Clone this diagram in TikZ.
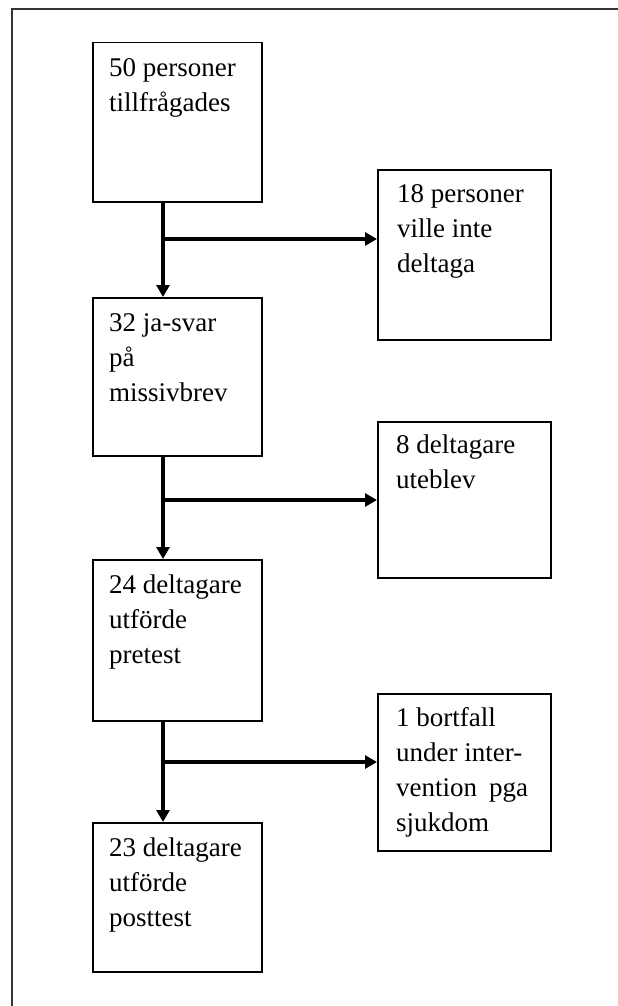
\documentclass[tikz,border=0pt]{standalone}
\usepackage{fontspec}
\setmainfont{Liberation Serif}
\usetikzlibrary{arrows.meta}
\newcommand{\tl}[1]{\hbox{\strut #1}}
\begin{document}
\begin{tikzpicture}[x=1pt,y=-1pt,
  box/.style={draw=black,line width=1.5pt,rectangle,inner sep=0pt,anchor=north west},
  txt/.style={anchor=base west,inner sep=0pt,font=\fontsize{27}{35}\selectfont},
  arr/.style={line width=4pt,-{Triangle[length=12pt,width=13pt]}},
  frame/.style={draw=black!80,line width=2pt}]
\useasboundingbox (0,0) rectangle (618,1006);
\draw[frame] (12,1010) -- (12,9) -- (622,9);
% left column
\node[box,minimum width=169pt,minimum height=159pt] (b1) at (92,42) {};
\node[box,minimum width=169pt,minimum height=158pt] (b2) at (92,297) {};
\node[box,minimum width=169pt,minimum height=161pt] (b3) at (92,559) {};
\node[box,minimum width=169pt,minimum height=149pt] (b4) at (92,822) {};
% right column
\node[box,minimum width=173pt,minimum height=170pt] (r1) at (377,169) {};
\node[box,minimum width=173pt,minimum height=156pt] (r2) at (377,421) {};
\node[box,minimum width=173pt,minimum height=157pt] (r3) at (377,693) {};
% texts
\node[txt] (t1) at (109,77) {\vtop{\tl{50 personer}\tl{tillfrågades}}};
\node[txt] (t2) at (109,331) {\vtop{\tl{32 ja-svar}\tl{på}\tl{missivbrev}}};
\node[txt] (t3) at (109,593) {\vtop{\tl{24 deltagare}\tl{utförde}\tl{pretest}}};
\node[txt] (t4) at (109,856) {\vtop{\tl{23 deltagare}\tl{utförde}\tl{posttest}}};
\node[txt] (s1) at (397,202) {\vtop{\tl{18 personer}\tl{ville inte}\tl{deltaga}}};
\node[txt] (s2) at (396,453) {\vtop{\tl{8 deltagare}\tl{uteblev}}};
\node[txt] (s3) at (396,726) {\vtop{\tl{1 bortfall}\tl{under inter-}\tl{vention\hspace{12pt}pga}\tl{sjukdom}}};
% junctions
\coordinate (j1) at (163,239);
\coordinate (j2) at (163,500);
\coordinate (j3) at (163,762);
\draw[arr] (b1.south -| j1) -- (b2.north -| j1);
\draw[arr] (j1) -- (j1 -| r1.west);
\draw[arr] (b2.south -| j2) -- (b3.north -| j2);
\draw[arr] (j2) -- (j2 -| r2.west);
\draw[arr] (b3.south -| j3) -- (b4.north -| j3);
\draw[arr] (j3) -- (j3 -| r3.west);
\end{tikzpicture}
\end{document}
